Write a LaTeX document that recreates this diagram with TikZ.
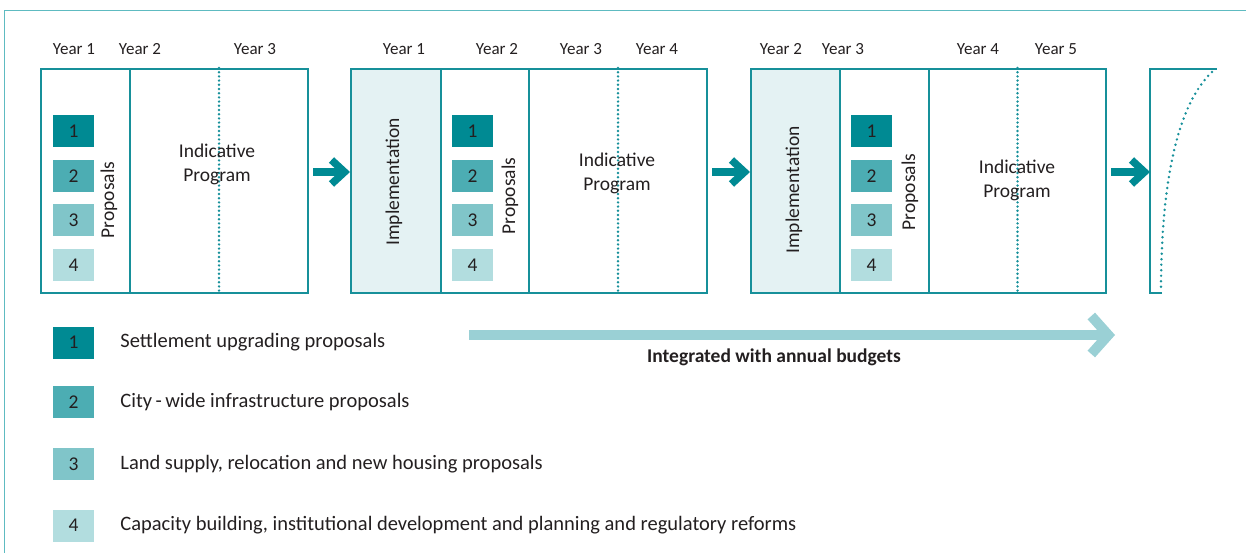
\documentclass[tikz,border=0pt]{standalone}
\usepackage{fontspec}
\setmainfont{Carlito}
\usetikzlibrary{arrows.meta,positioning}

\definecolor{boxline}{HTML}{17909A}
\definecolor{frameline}{HTML}{5EBBC1}
\definecolor{sq1}{HTML}{008A93}
\definecolor{sq2}{HTML}{4CADB3}
\definecolor{sq3}{HTML}{80C5C9}
\definecolor{sq4}{HTML}{B2DDDF}
\definecolor{implfill}{HTML}{E4F2F3}
\definecolor{budget}{HTML}{9AD0D5}
\definecolor{ink}{HTML}{231F20}

\begin{document}
\begin{tikzpicture}[x=1pt,y=-1pt,text=ink,
    col/.style={draw=boxline,line width=2pt,minimum height=224pt,inner sep=0pt},
    impl/.style={col,fill=implfill},
    sq/.style={minimum width=41pt,minimum height=32pt,inner sep=0pt,
        font=\fontsize{19.5}{22}\selectfont},
    year/.style={font=\fontsize{17}{20}\selectfont,inner sep=0pt},
    lbl/.style={font=\fontsize{19.5}{24}\selectfont,inner sep=0pt,align=center},
    vlbl/.style={lbl,rotate=90},
    legtxt/.style={font=\fontsize{20.5}{24}\selectfont,inner sep=0pt,anchor=west},
    yeardots/.style={draw=boxline,line width=2.7pt,line cap=round,
        dash pattern=on 0pt off 4.2pt},
    flow/.style={draw=sq1,line width=7.5pt,shorten <=4pt,
        -{Straight Barb[length=13pt,width=24pt]}},
    bigflow/.style={draw=budget,line width=10pt,
        -{Straight Barb[length=17pt,width=38pt]}}]

\useasboundingbox (0,0) rectangle (1246,553);

% outer frame
\draw[frameline,line width=1.5pt] (4.3,553) -- (4.3,10.7) -- (1246,10.7);

% first cycle
\node[col,minimum width=89pt] (prop1) at (85.5,181) {};
\node[col,minimum width=178pt] (ind1) at (219,181) {};
\draw[yeardots] (ind1.north) -- (ind1.south);
\node[vlbl] (ptxt1) at (109,200) {Proposals};
\node[lbl] (itxt1) at (217,164) {Indicative\\Program};
\foreach \i/\y in {1/131,2/176,3/220,4/265}
    \node[sq,fill=sq\i] (a\i) at (73.5,\y) {\i};
\node[year] (y11) at (74,49) {Year 1};
\node[year] (y12) at (140,49) {Year 2};
\node[year] (y13) at (255,49) {Year 3};

% second cycle
\node[impl,minimum width=90pt] (imp2) at (396,181) {};
\node[col,minimum width=88pt] (prop2) at (485,181) {};
\node[col,minimum width=178pt] (ind2) at (618,181) {};
\draw[yeardots] (ind2.north) -- (ind2.south);
\node[vlbl] (mtxt2) at (394,182) {Implementation};
\node[vlbl] (ptxt2) at (510,196) {Proposals};
\node[lbl] (itxt2) at (617,173) {Indicative\\Program};
\foreach \i/\y in {1/131,2/176,3/220,4/265}
    \node[sq,fill=sq\i] (b\i) at (472.5,\y) {\i};
\node[year] (y21) at (404,49) {Year 1};
\node[year] (y22) at (497,49) {Year 2};
\node[year] (y23) at (581,49) {Year 3};
\node[year] (y24) at (657,49) {Year 4};

% third cycle
\node[impl,minimum width=89pt] (imp3) at (795.5,181) {};
\node[col,minimum width=89pt] (prop3) at (884.5,181) {};
\node[col,minimum width=177pt] (ind3) at (1017.5,181) {};
\draw[yeardots] (ind3.north) -- (ind3.south);
\node[vlbl] (mtxt3) at (794,190) {Implementation};
\node[vlbl] (ptxt3) at (910,192) {Proposals};
\node[lbl] (itxt3) at (1017,180) {Indicative\\Program};
\foreach \i/\y in {1/131,2/176,3/220,4/265}
    \node[sq,fill=sq\i] (c\i) at (871.5,\y) {\i};
\node[year] (y32) at (781,49) {Year 2};
\node[year] (y33) at (843,49) {Year 3};
\node[year] (y34) at (978,49) {Year 4};
\node[year] (y35) at (1056,49) {Year 5};

% next cycle, cut off
\draw[boxline,line width=2pt] (1162,293) -- (1150,293) -- (1150,69) -- (1217,69);
\draw[yeardots,line width=2.7pt,dash pattern=on 0pt off 5.5pt]
    (1212,72) .. controls (1178,104) and (1161,180) .. (1161,291);
\coordinate (next) at (1150,172);

% flow between cycles
\draw[flow] ([yshift=9pt]ind1.east) -- ([yshift=9pt]imp2.west);
\draw[flow] ([yshift=9pt]ind2.east) -- ([yshift=9pt]imp3.west);
\draw[flow] ([yshift=9pt]ind3.east) -- (next);

% budgets
\coordinate (bstart) at (469,335);
\coordinate (bend) at (1115,335);
\draw[bigflow] (bstart) -- (bend);
\node[font=\bfseries\fontsize{19.5}{24}\selectfont,inner sep=0pt] (btxt) at (774,357)
    {Integrated with annual budgets};

% legend
\node[sq,fill=sq1] (l1) at (73.5,342.5) {1};
\node[sq,fill=sq2] (l2) at (73.5,402) {2};
\node[sq,fill=sq3] (l3) at (73.5,464) {3};
\node[sq,fill=sq4] (l4) at (73.5,525.5) {4};
\node[legtxt,right=26pt of l1] (t1) {Settlement upgrading proposals};
\node[legtxt,right=26pt of l2] (t2) {City\,-\,wide infrastructure proposals};
\node[legtxt,right=26pt of l3] (t3) {Land supply, relocation and new housing proposals};
\node[legtxt,right=26pt of l4] (t4) {Capacity building, institutional development and planning and regulatory reforms};

\end{tikzpicture}
\end{document}
